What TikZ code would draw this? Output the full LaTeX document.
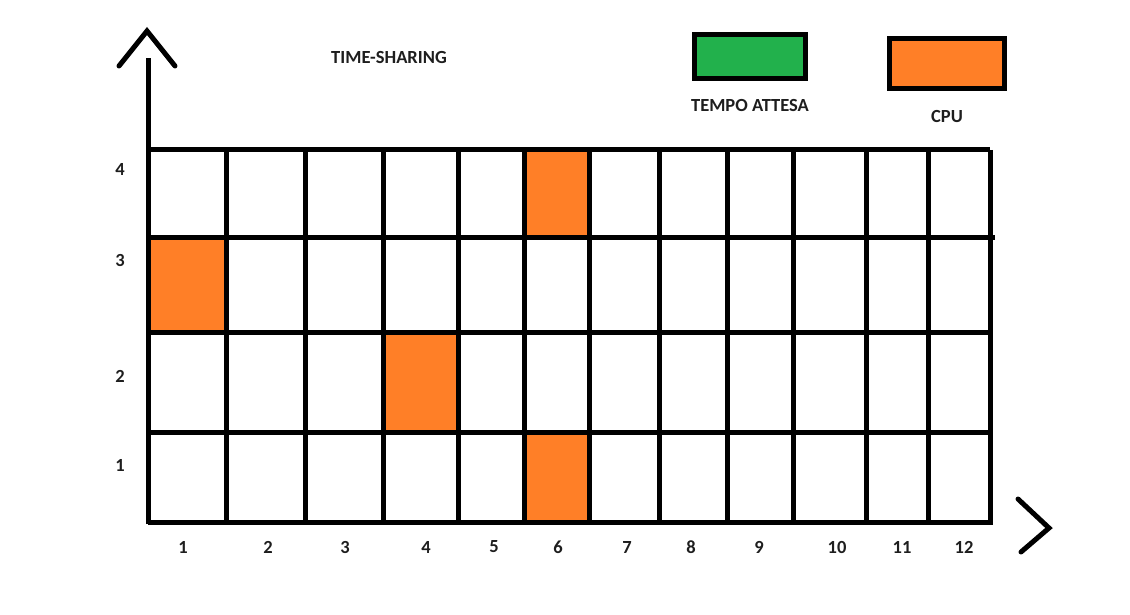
\documentclass[tikz,border=0pt]{standalone}
\usepackage{fontspec}
\setmainfont{Carlito}
\definecolor{cpuorange}{RGB}{255,127,39}
\definecolor{waitgreen}{RGB}{34,177,76}
\definecolor{labelgray}{RGB}{30,30,30}
\usetikzlibrary{positioning}

\begin{document}
\begin{tikzpicture}[x=1pt, y=-1pt,
  gridline/.style={line width=5pt},
  chevron/.style={line width=5pt, line cap=round, line join=miter},
  lbl/.style={font=\fontsize{18.5}{20}\selectfont\bfseries, text=labelgray, inner sep=0pt},
  legbox/.style={draw, line width=5pt, inner sep=0pt}
]
  \useasboundingbox (0,0) rectangle (1130,615);

  \fill[cpuorange] (524,150) rectangle (589,237);
  \fill[cpuorange] (148,237) rectangle (226,332);
  \fill[cpuorange] (383,332) rectangle (458,432);
  \fill[cpuorange] (524,432) rectangle (589,522);

  \foreach \y/\r in {150/990, 237/995, 332/993, 432/991, 522/993}
    \draw[gridline] (148,\y) -- (\r,\y);
  \foreach \x in {226,305,383,458,524,589,659,727,793,866,928,990}
    \draw[gridline] (\x,150) -- (\x,524);

  \coordinate (ytop) at (148,58);
  \coordinate (origin) at (148,524);
  \draw[gridline] (origin) -- (ytop);
  \draw[chevron] (119,66) -- (147,31) -- (175,66);
  \draw[chevron] (1018,499) -- (1049,528) -- (1021,552);

  \node[lbl] (title) at (389,57) {TIME-SHARING};

  \node[legbox, fill=waitgreen, minimum width=111pt, minimum height=44pt] (waitbox) at (750,56.5) {};
  \node[lbl, below=18pt of waitbox] (waitlbl) {TEMPO ATTESA};
  \node[legbox, fill=cpuorange, minimum width=115pt, minimum height=50pt] (cpubox) at (947,63.5) {};
  \node[lbl, below=19pt of cpubox] (cpulbl) {CPU};

  \foreach \y/\n in {169/4, 260/3, 376/2, 465/1}
    \node[lbl] (row\n) at (120,\y) {\n};
  \foreach \x/\n in {183/1, 268/2, 345/3, 426/4, 494/5, 558/6, 627/7, 691/8, 759/9, 837/10, 902/11, 964/12}
    \node[lbl] (col\n) at (\x,547) {\n};
\end{tikzpicture}
\end{document}
